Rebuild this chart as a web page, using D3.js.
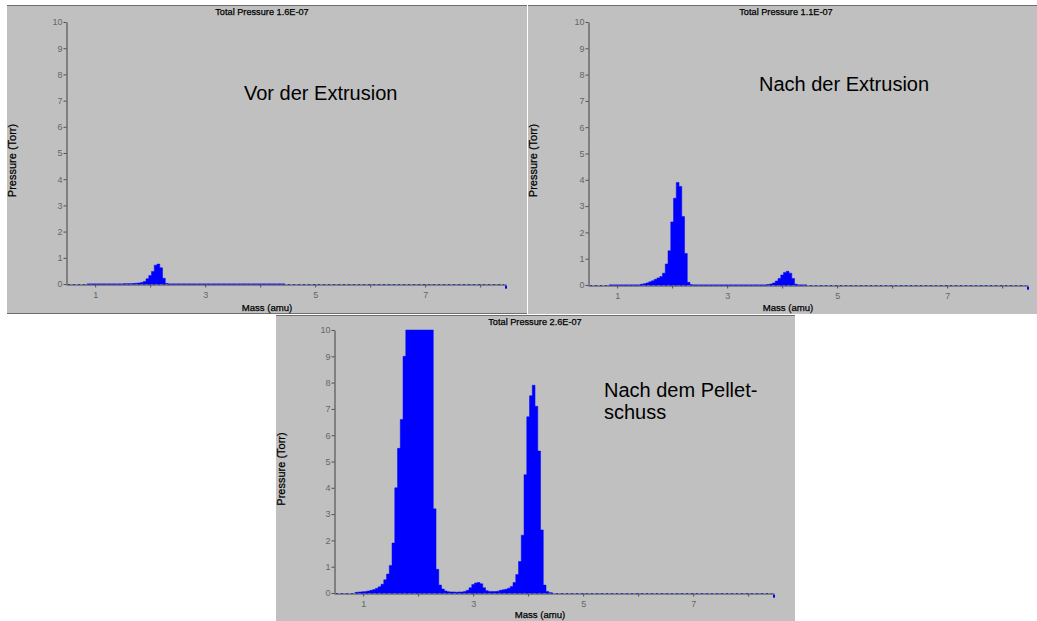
<!DOCTYPE html>
<html lang="de">
<head>
<meta charset="UTF-8">
<title>Total Pressure</title>
<script src="https://d3js.org/d3.v7.min.js"></script>
<style>
  body { margin: 0; background: #fff; font-family: "Liberation Sans", Arial, sans-serif; }
  svg { display: block; }
</style>
</head>
<body>
<div id="chart"></div>
<script>
// mass grid (amu) of the scanned region, values outside are zero
const massGrid = [
  0.85, 0.90, 0.95, 1.00, 1.05, 1.10, 1.15, 1.20, 1.25, 1.30, 1.35, 1.40, 1.45, 1.50,
  1.55, 1.60, 1.65, 1.70, 1.75, 1.80, 1.85, 1.90, 1.95, 2.00, 2.05, 2.10, 2.15, 2.20, 2.25,
  2.30, 2.35, 2.40, 2.45, 2.50, 2.55, 2.60, 2.65, 2.70, 2.75, 2.80, 2.85, 2.90, 2.95, 3.00,
  3.05, 3.10, 3.15, 3.20, 3.25, 3.30, 3.35, 3.40, 3.45, 3.50, 3.55, 3.60, 3.65, 3.70, 3.75,
  3.80, 3.85, 3.90, 3.95, 4.00, 4.05, 4.10, 4.15, 4.20, 4.25, 4.30, 4.35, 4.40, 4.45
];

// "Vor der Extrusion"
const pressureVor = [
  0, 0, 0, 0, 0, 0, 0, 0, 0, 0, 0, 0, 0, 0,
  0.01, 0.01, 0.01, 0.02, 0.03, 0.04, 0.06, 0.10, 0.20, 0.32, 0.48, 0.72, 0.76, 0.62, 0.22,
  0.02, 0, 0, 0, 0, 0, 0, 0, 0, 0, 0, 0, 0, 0, 0,
  0, 0, 0, 0, 0, 0, 0, 0, 0, 0, 0, 0, 0, 0, 0,
  0, 0, 0, 0, 0, 0, 0, 0, 0, 0, 0, 0, 0, 0
];

// "Nach der Extrusion"
const pressureNach = [
  0, 0, 0, 0, 0, 0, 0, 0, 0, 0, 0, 0, 0.03, 0.05,
  0.08, 0.12, 0.16, 0.22, 0.27, 0.32, 0.45, 0.80, 1.30, 2.40, 3.30, 3.90, 3.75, 2.60, 1.20,
  0.10, 0.01, 0, 0, 0, 0, 0, 0, 0, 0, 0, 0, 0, 0, 0,
  0, 0, 0, 0, 0, 0, 0, 0, 0, 0, 0, 0, 0, 0, 0.02,
  0.04, 0.08, 0.15, 0.25, 0.38, 0.48, 0.52, 0.45, 0.25, 0.03, 0, 0, 0, 0
];

// "Nach dem Pelletschuss" (values clipped at the top of the scale)
const pressurePellet = [
  0.02, 0.03, 0.04, 0.05, 0.06, 0.08, 0.10, 0.13, 0.18, 0.24, 0.33, 0.50, 0.72, 1.05,
  1.90, 4.00, 5.50, 6.60, 9.00, 10, 10, 10, 10, 10, 10, 10, 10, 10, 10,
  3.20, 0.90, 0.30, 0.15, 0.08, 0.05, 0.04, 0.04, 0.03, 0.04, 0.04, 0.06, 0.10, 0.20, 0.32,
  0.38, 0.40, 0.35, 0.20, 0.09, 0.06, 0.06, 0.06, 0.07, 0.10, 0.12, 0.14, 0.18, 0.25, 0.40,
  0.70, 1.20, 2.20, 4.50, 6.70, 7.50, 7.90, 7.10, 5.40, 2.40, 0.30, 0.06, 0.01, 0
];

// last scan point, slightly below zero in every panel
const tailMass = 8.47;
const tailPressure = -0.12;

const titles = ["Total Pressure 1.6E-07", "Total Pressure 1.1E-07", "Total Pressure 2.6E-07"];
const notes = [["Vor der Extrusion"], ["Nach der Extrusion"], ["Nach dem Pellet-", "schuss"]];
const yTicks = [0, 1, 2, 3, 4, 5, 6, 7, 8, 9, 10];
const xTicks = [1, 2, 3, 4, 5, 6, 7, 8];
const xTickLabels = [1, 3, 5, 7];
const massRange = [0.47, 8.47];
const pressureRange = [0, 10];

const font = '"Liberation Sans", Arial, sans-serif';
const svg = d3.select("#chart").append("svg")
  .attr("width", 1037)
  .attr("height", 621);

const panels = [
  { values: pressureVor, title: titles[0], note: notes[0],
    box: { x: 7, y: 5, w: 520, h: 309 }, plot: { left: 66, right: 506, bottom: 284, top: 22 },
    titleX: 262, massX: 267, noteX: 244, noteY: 100, borderBottom: true },
  { values: pressureNach, title: titles[1], note: notes[1],
    box: { x: 528, y: 5, w: 509, h: 309 }, plot: { left: 588, right: 1028, bottom: 285, top: 22 },
    titleX: 786, massX: 788, noteX: 759, noteY: 91, borderBottom: false },
  { values: pressurePellet, title: titles[2], note: notes[2],
    box: { x: 276, y: 315, w: 519, h: 306 }, plot: { left: 334, right: 774, bottom: 593, top: 330 },
    titleX: 535, massX: 540, noteX: 604, noteY: 397, borderBottom: false }
];

panels.forEach(drawPanel);

function smallText(g, x, y, str, size) {
  return g.append("text")
    .attr("x", x)
    .attr("y", y)
    .attr("text-anchor", "middle")
    .attr("font-family", font)
    .attr("font-size", size)
    .attr("fill", "#000")
    .attr("stroke", "#000")
    .attr("stroke-width", 0.25)
    .text(str);
}

function drawPanel(p) {
  const g = svg.append("g");
  const b = p.box;

  g.append("rect")
    .attr("x", b.x).attr("y", b.y)
    .attr("width", b.w).attr("height", b.h)
    .attr("fill", "#c0c0c0");

  // frame lines
  g.append("line")
    .attr("x1", b.x).attr("x2", b.x + b.w)
    .attr("y1", b.y + 0.5).attr("y2", b.y + 0.5)
    .attr("stroke", "#6e6e6e");
  if (p.borderBottom) {
    g.append("line")
      .attr("x1", b.x).attr("x2", b.x + b.w)
      .attr("y1", b.y + b.h - 0.5).attr("y2", b.y + b.h - 0.5)
      .attr("stroke", "#6e6e6e");
  }

  const x = d3.scaleLinear().domain(massRange).range([p.plot.left, p.plot.right]);
  const y = d3.scaleLinear().domain(pressureRange).range([p.plot.bottom, p.plot.top]);

  // axes
  const xAxis = g.append("g")
    .attr("transform", `translate(0,${p.plot.bottom + 0.5})`)
    .call(d3.axisBottom(x)
      .tickValues(xTicks)
      .tickSize(3)
      .tickSizeOuter(0)
      .tickPadding(4)
      .tickFormat(d => xTickLabels.includes(d) ? d : ""));

  const yAxis = g.append("g")
    .attr("transform", `translate(${p.plot.left + 0.5},0)`)
    .call(d3.axisLeft(y)
      .tickValues(yTicks)
      .tickSize(3)
      .tickSizeOuter(0)
      .tickPadding(1));

  [xAxis, yAxis].forEach(a => {
    a.attr("font-family", font).attr("font-size", 9);
    a.select(".domain").attr("stroke", "#404040");
    a.selectAll(".tick line").attr("stroke", "#505050");
    a.selectAll(".tick text").attr("fill", "#666");
  });

  // spectrum
  const pts = massGrid.map((m, i) => ({ m: m, p: p.values[i] }));
  const area = d3.area()
    .x(d => x(d.m))
    .y0(y(0))
    .y1(d => y(Math.min(d.p, pressureRange[1])))
    .curve(d3.curveStep);

  g.append("path")
    .datum(pts)
    .attr("d", area)
    .attr("fill", "#0000ff")
    .attr("stroke", "#0000ff")
    .attr("stroke-width", 0.5);

  // zero-level data points drawn as a dotted trace
  g.append("line")
    .attr("x1", x(massRange[0]) + 2).attr("x2", x(tailMass) - 2)
    .attr("y1", y(0) + 0.5).attr("y2", y(0) + 0.5)
    .attr("stroke", "#2a34d8")
    .attr("stroke-width", 1)
    .attr("stroke-dasharray", "2,3");

  g.append("rect")
    .attr("x", x(tailMass) - 1)
    .attr("y", y(tailPressure) - 1.5)
    .attr("width", 2).attr("height", 3)
    .attr("fill", "#0000ff");

  // texts
  smallText(g, p.titleX, b.y + 10, p.title, 9.2);
  smallText(g, p.massX, b.y + b.h - 3, "Mass (amu)", 9.6);
  smallText(g, 0, 0, "Pressure (Torr)", 11)
    .attr("transform", `translate(${b.x + 9},${b.y + b.h / 2 + 1}) rotate(-90)`);

  p.note.forEach((line, i) => {
    g.append("text")
      .attr("x", p.noteX)
      .attr("y", p.noteY + i * 22)
      .attr("font-family", font)
      .attr("font-size", 20)
      .attr("fill", "#000")
      .text(line);
  });
}
</script>
</body>
</html>
